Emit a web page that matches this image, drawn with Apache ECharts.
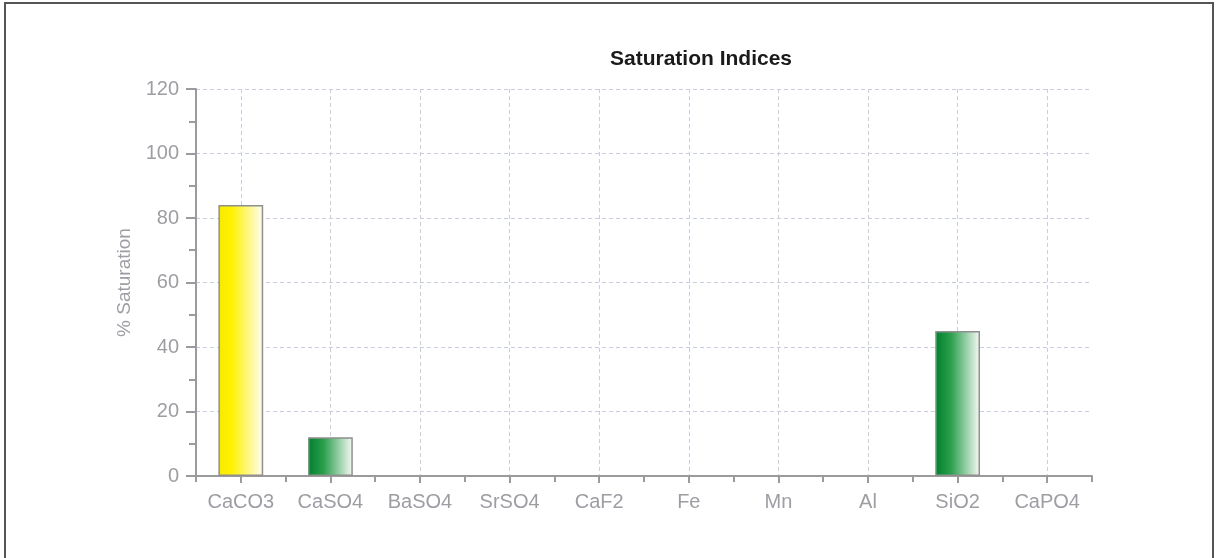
<!DOCTYPE html>
<html>
<head>
<meta charset="utf-8">
<script src="https://cdn.jsdelivr.net/npm/echarts@6/dist/echarts.min.js"></script>
<style>
html,body{margin:0;padding:0;background:#fff;}
#chart{width:1217px;height:558px;}
</style>
</head>
<body>
<div id="chart"></div>
<script>
const categories = ['CaCO3','CaSO4','BaSO4','SrSO4','CaF2','Fe','Mn','Al','SiO2','CaPO4'];
const saturation = [84, 12, 0, 0, 0, 0, 0, 0, 45, 0];
const barKinds = ['yellow','green','green','green','green','green','green','green','green','green'];
const yTicks = {min: 0, max: 120, interval: 20};

const gradients = {
  yellow: new echarts.graphic.LinearGradient(0, 0, 1, 0, [
    {offset: 0, color: '#f8ea00'},
    {offset: 0.3, color: '#fff200'},
    {offset: 1, color: '#fffdf0'}
  ]),
  green: new echarts.graphic.LinearGradient(0, 0, 1, 0, [
    {offset: 0, color: '#00802e'},
    {offset: 0.35, color: '#2a9f4c'},
    {offset: 1, color: '#f6fbf6'}
  ])
};

const chart = echarts.init(document.getElementById('chart'));
const axisGrey = '#9b9b9b';
const labelGrey = '#9d9da4';
chart.setOption({
  animation: false,
  title: {
    text: 'Saturation Indices',
    left: 696, top: 44,
    textAlign: 'center',
    textStyle: {fontFamily: 'Liberation Sans', fontWeight: 'bold', fontSize: 21, color: '#1a1a1a'}
  },
  graphic: [{
    type: 'polyline',
    shape: {points: [[5, 558], [5, 3], [1213, 3], [1213, 558]]},
    style: {stroke: '#555', lineWidth: 2, fill: null}
  }],
  grid: {left: 196, right: 125, top: 89, bottom: 82},
  xAxis: [{
    type: 'category',
    data: categories,
    position: 'bottom',
    axisLine: {show: true, lineStyle: {color: axisGrey, width: 2}},
    axisTick: {show: true, alignWithLabel: true, length: 7, lineStyle: {color: axisGrey, width: 2}},
    axisLabel: {margin: 16, fontFamily: 'Liberation Sans', fontSize: 20, color: labelGrey, interval: 0},
    splitLine: {show: true, alignWithLabel: true, lineStyle: {color: '#c9cde0', type: [4, 3], width: 1}}
  }, {
    type: 'category',
    data: categories,
    position: 'bottom',
    axisLine: {show: false},
    axisTick: {show: true, length: 6, interval: 0, lineStyle: {color: axisGrey, width: 2}},
    axisLabel: {show: false},
    splitLine: {show: false}
  }],
  yAxis: {
    type: 'value',
    min: yTicks.min, max: yTicks.max, interval: yTicks.interval,
    name: '% Saturation',
    nameLocation: 'middle',
    nameRotate: 90,
    nameGap: 55,
    nameTextStyle: {fontFamily: 'Liberation Sans', fontSize: 19, color: labelGrey},
    axisLine: {show: true, lineStyle: {color: axisGrey, width: 2}},
    axisTick: {show: true, length: 10, lineStyle: {color: axisGrey, width: 2}},
    minorTick: {show: true, splitNumber: 2, length: 7, lineStyle: {color: axisGrey, width: 2}},
    axisLabel: {margin: 17, fontFamily: 'Liberation Sans', fontSize: 20, color: labelGrey},
    splitLine: {show: true, lineStyle: {color: '#c9cde0', type: [4, 3], width: 1}}
  },
  series: [{
    type: 'bar',
    xAxisIndex: 0,
    barWidth: '50%',
    data: saturation.map((v, i) => ({
      value: v,
      itemStyle: {color: gradients[barKinds[i]], borderColor: '#8f8f8f', borderWidth: v > 0 ? 1.5 : 0}
    }))
  }]
});
</script>
</body>
</html>
